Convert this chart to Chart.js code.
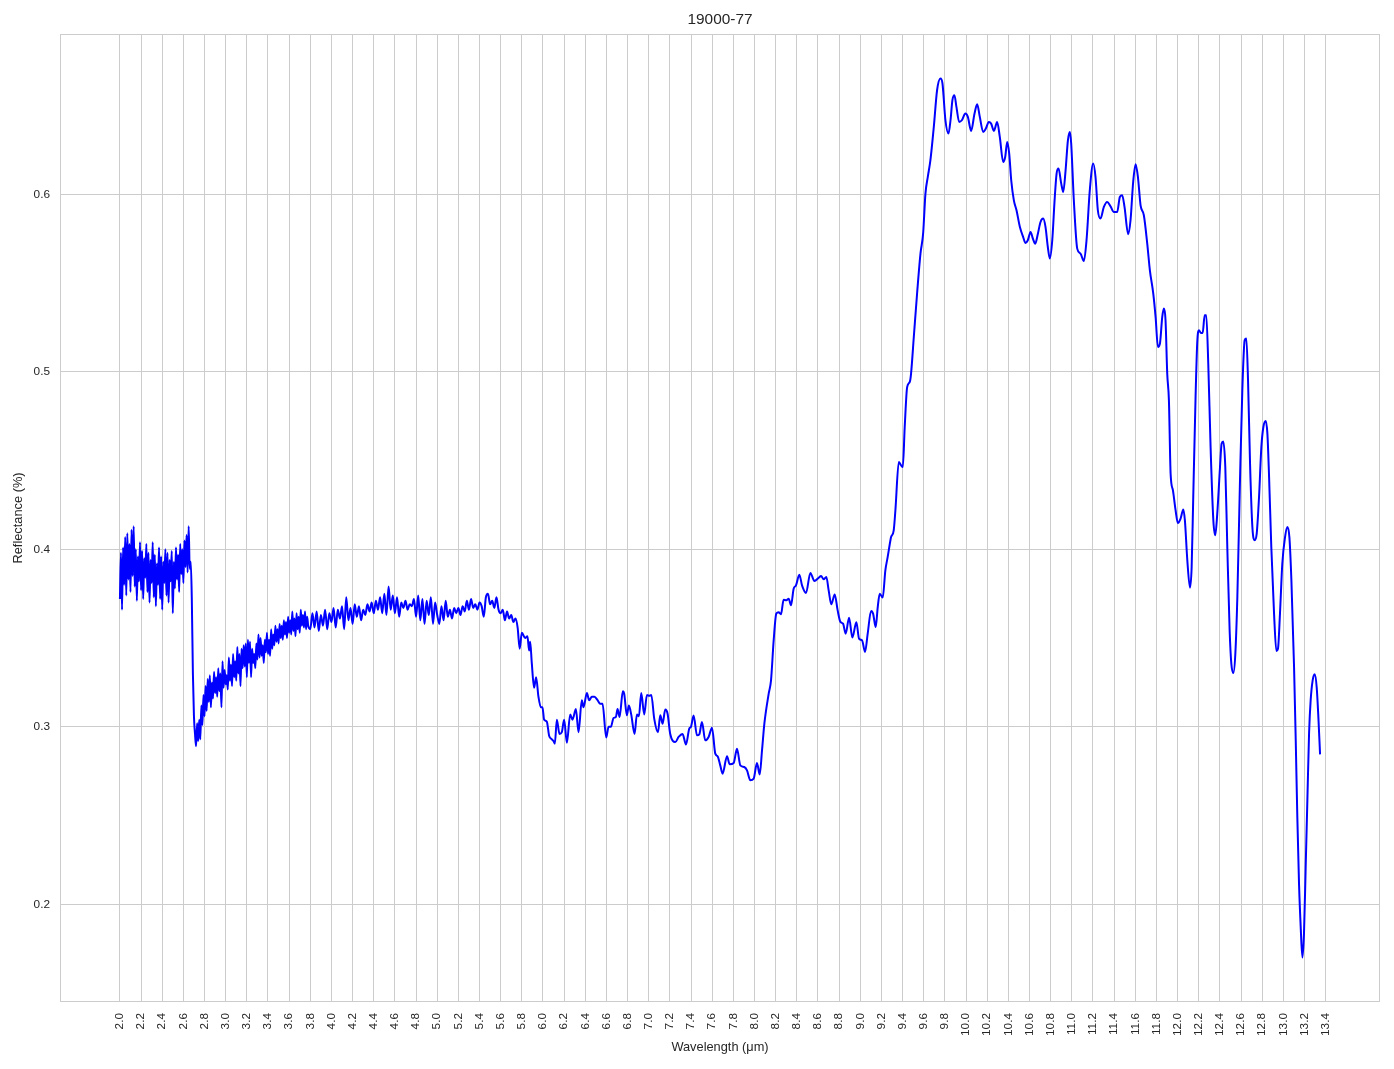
<!DOCTYPE html>
<html lang="en">
  <head>
    <meta charset="UTF-8" />
    <title>19000-77</title>
    <script src="https://cdn.jsdelivr.net/npm/chart.js@4"></script>
    <style>
      body { margin: 0; background: #ffffff; }
    </style>
  </head>
  <body>
    <canvas id="spectrum" width="1394" height="1069"></canvas>
    <script>
      // noisy start of the scan, 2.00 - 2.68 um
      const seg1Wl = [
        2.00, 2.01, 2.02, 2.03, 2.04, 2.05, 2.06, 2.07, 2.08, 2.09,
        2.10, 2.11, 2.12, 2.13, 2.14, 2.15, 2.16, 2.17, 2.18, 2.19,
        2.20, 2.21, 2.22, 2.23, 2.24, 2.25, 2.26, 2.27, 2.28, 2.29,
        2.30, 2.31, 2.32, 2.33, 2.34, 2.35, 2.36, 2.37, 2.38, 2.39,
        2.40, 2.41, 2.42, 2.43, 2.44, 2.45, 2.46, 2.47, 2.48, 2.49,
        2.50, 2.51, 2.52, 2.53, 2.54, 2.55, 2.56, 2.57, 2.58, 2.59,
        2.60, 2.61, 2.62, 2.63, 2.64, 2.65, 2.66, 2.67, 2.68
      ];
      const seg1Refl = [
        0.372, 0.398, 0.366, 0.401, 0.380, 0.407, 0.374, 0.409, 0.383, 0.403,
        0.376, 0.411, 0.385, 0.413, 0.379, 0.400, 0.371, 0.396, 0.382, 0.404,
        0.377, 0.399, 0.372, 0.395, 0.384, 0.403, 0.376, 0.398, 0.370, 0.394,
        0.381, 0.404, 0.373, 0.397, 0.368, 0.392, 0.380, 0.401, 0.372, 0.396,
        0.366, 0.393, 0.381, 0.400, 0.374, 0.398, 0.370, 0.394, 0.382, 0.399,
        0.364, 0.393, 0.378, 0.401, 0.383, 0.397, 0.376, 0.403, 0.386, 0.400,
        0.381, 0.405, 0.390, 0.408, 0.387, 0.413, 0.389, 0.393, 0.371
      ];

      // drop and slow noisy rise, 2.69 - 3.78 um
      const seg2Wl = [
        2.69, 2.70, 2.71, 2.72, 2.73, 2.74, 2.75, 2.76, 2.77, 2.78,
        2.79, 2.80, 2.81, 2.82, 2.83, 2.84, 2.85, 2.86, 2.87, 2.88,
        2.89, 2.90, 2.91, 2.92, 2.93, 2.94, 2.95, 2.96, 2.97, 2.98,
        2.99, 3.00, 3.01, 3.02, 3.03, 3.04, 3.05, 3.06, 3.07, 3.08,
        3.09, 3.10, 3.11, 3.12, 3.13, 3.14, 3.15, 3.16, 3.17, 3.18,
        3.19, 3.20, 3.21, 3.22, 3.23, 3.24, 3.25, 3.26, 3.27, 3.28,
        3.29, 3.30, 3.31, 3.32, 3.33, 3.34, 3.35, 3.36, 3.37, 3.38,
        3.39, 3.40, 3.41, 3.42, 3.43, 3.44, 3.45, 3.46, 3.47, 3.48,
        3.49, 3.50, 3.51, 3.52, 3.53, 3.54, 3.55, 3.56, 3.57, 3.58,
        3.59, 3.60, 3.61, 3.62, 3.63, 3.64, 3.65, 3.66, 3.67, 3.68,
        3.69, 3.70, 3.71, 3.72, 3.73, 3.74, 3.75, 3.76, 3.77, 3.78
      ];
      const seg2Refl = [
        0.330, 0.306, 0.296, 0.289, 0.302, 0.292, 0.304, 0.293, 0.312, 0.301,
        0.318, 0.306, 0.323, 0.309, 0.327, 0.314, 0.329, 0.311, 0.325, 0.316,
        0.331, 0.319, 0.328, 0.317, 0.333, 0.320, 0.330, 0.311, 0.337, 0.322,
        0.332, 0.324, 0.329, 0.321, 0.339, 0.326, 0.335, 0.323, 0.341, 0.328,
        0.337, 0.326, 0.345, 0.330, 0.341, 0.323, 0.344, 0.333, 0.346, 0.334,
        0.347, 0.328, 0.349, 0.336, 0.348, 0.328, 0.344, 0.336, 0.341, 0.333,
        0.347, 0.338, 0.352, 0.339, 0.350, 0.340, 0.346, 0.336, 0.349, 0.342,
        0.353, 0.341, 0.349, 0.340, 0.355, 0.344, 0.352, 0.346, 0.357, 0.348,
        0.355, 0.347, 0.358, 0.350, 0.357, 0.349, 0.360, 0.352, 0.359, 0.350,
        0.362, 0.353, 0.360, 0.352, 0.365, 0.354, 0.361, 0.351, 0.364, 0.355,
        0.362, 0.353, 0.366, 0.357, 0.363, 0.356, 0.365, 0.355, 0.362, 0.357
      ];

      // plateau, 3.80 - 5.78 um
      const seg3Wl = [
        3.80, 3.82, 3.84, 3.86, 3.88, 3.90, 3.92, 3.94, 3.96, 3.98,
        4.00, 4.02, 4.04, 4.06, 4.08, 4.10, 4.12, 4.14, 4.16, 4.18,
        4.20, 4.22, 4.24, 4.26, 4.28, 4.30, 4.32, 4.34, 4.36, 4.38,
        4.40, 4.42, 4.44, 4.46, 4.48, 4.50, 4.52, 4.54, 4.56, 4.58,
        4.60, 4.62, 4.64, 4.66, 4.68, 4.70, 4.72, 4.74, 4.76, 4.78,
        4.80, 4.82, 4.84, 4.86, 4.88, 4.90, 4.92, 4.94, 4.96, 4.98,
        5.00, 5.02, 5.04, 5.06, 5.08, 5.10, 5.12, 5.14, 5.16, 5.18,
        5.20, 5.22, 5.24, 5.26, 5.28, 5.30, 5.32, 5.34, 5.36, 5.38,
        5.40, 5.42, 5.44, 5.46, 5.48, 5.50, 5.52, 5.54, 5.56, 5.58,
        5.60, 5.62, 5.64, 5.66, 5.68, 5.70, 5.72, 5.74, 5.76, 5.78
      ];
      const seg3Refl = [
        0.355, 0.364, 0.356, 0.365, 0.354, 0.363, 0.357, 0.366, 0.355, 0.364,
        0.359, 0.367, 0.356, 0.366, 0.361, 0.368, 0.355, 0.373, 0.360, 0.367,
        0.358, 0.369, 0.362, 0.368, 0.360, 0.366, 0.363, 0.369, 0.365, 0.370,
        0.364, 0.371, 0.366, 0.373, 0.364, 0.375, 0.363, 0.379, 0.366, 0.374,
        0.364, 0.373, 0.362, 0.370, 0.367, 0.371, 0.366, 0.369, 0.368, 0.372,
        0.362, 0.374, 0.360, 0.372, 0.358, 0.371, 0.363, 0.373, 0.358, 0.370,
        0.363, 0.358, 0.368, 0.360, 0.371, 0.362, 0.366, 0.361, 0.367, 0.364,
        0.367, 0.363, 0.368, 0.365, 0.371, 0.366, 0.372, 0.367, 0.369, 0.366,
        0.370, 0.368, 0.362, 0.373, 0.375, 0.369, 0.371, 0.367, 0.373, 0.366,
        0.364, 0.366, 0.360, 0.365, 0.361, 0.363, 0.359, 0.361, 0.356, 0.344
      ];

      // trough, 5.80 - 8.23 um
      const seg4Wl = [
        5.800, 5.831, 5.853, 5.869, 5.879, 5.894, 5.916, 5.935, 5.957, 5.980,
        5.995, 6.011, 6.036, 6.058, 6.084, 6.099, 6.112, 6.131, 6.156, 6.178,
        6.200, 6.226, 6.257, 6.279, 6.311, 6.336, 6.367, 6.383, 6.415, 6.437,
        6.462, 6.487, 6.516, 6.541, 6.563, 6.598, 6.620, 6.642, 6.667, 6.689,
        6.705, 6.724, 6.755, 6.768, 6.793, 6.812, 6.834, 6.866, 6.888, 6.907,
        6.929, 6.957, 6.983, 7.005, 7.024, 7.052, 7.087, 7.109, 7.131, 7.156,
        7.178, 7.203, 7.251, 7.282, 7.320, 7.352, 7.383, 7.399, 7.424, 7.456,
        7.478, 7.503, 7.534, 7.566, 7.598, 7.629, 7.651, 7.676, 7.698, 7.740,
        7.765, 7.803, 7.834, 7.866, 7.903, 7.929, 7.960, 7.992, 8.023, 8.049,
        8.071, 8.093, 8.134, 8.156, 8.181, 8.206, 8.228
      ];
      const seg4Refl = [
        0.353, 0.350, 0.351, 0.343, 0.348, 0.336, 0.322, 0.328, 0.317, 0.311,
        0.311, 0.304, 0.303, 0.295, 0.293, 0.292, 0.2905, 0.304, 0.296, 0.297,
        0.304, 0.291, 0.307, 0.304, 0.310, 0.297, 0.315, 0.311, 0.319, 0.315,
        0.317, 0.317, 0.315, 0.313, 0.313, 0.294, 0.300, 0.300, 0.305, 0.3055,
        0.310, 0.3055, 0.320, 0.3185, 0.3065, 0.312, 0.307, 0.296, 0.307, 0.306,
        0.319, 0.307, 0.318, 0.3175, 0.318, 0.3045, 0.297, 0.3065, 0.3018, 0.3097,
        0.3074, 0.296, 0.2914, 0.2943, 0.296, 0.290, 0.299, 0.300, 0.3064, 0.2952,
        0.2958, 0.3027, 0.2924, 0.2943, 0.2995, 0.2849, 0.2834, 0.2783, 0.2736, 0.2834,
        0.2789, 0.2796, 0.2877, 0.2783, 0.2774, 0.2755, 0.2699, 0.2708, 0.2796, 0.2732,
        0.2868, 0.3018, 0.3187, 0.3262, 0.3487, 0.3638, 0.3646
      ];

      // shoulder, 8.25 - 9.29 um
      const seg5Wl = [
        8.250, 8.275, 8.301, 8.323, 8.345, 8.370, 8.392, 8.424, 8.449, 8.487,
        8.528, 8.566, 8.607, 8.629, 8.654, 8.679, 8.701, 8.726, 8.758, 8.786,
        8.812, 8.837, 8.862, 8.894, 8.925, 8.963, 8.988, 9.017, 9.045, 9.070,
        9.102, 9.121, 9.146, 9.165, 9.184, 9.212, 9.237, 9.259, 9.285
      ];
      const seg5Refl = [
        0.3634, 0.3716, 0.3713, 0.3722, 0.3685, 0.3778, 0.3797, 0.3857, 0.3797, 0.3754,
        0.3867, 0.3822, 0.3840, 0.3850, 0.3831, 0.3844, 0.3769, 0.3690, 0.3746, 0.3656,
        0.3591, 0.3581, 0.3525, 0.3615, 0.3503, 0.3589, 0.3497, 0.3487, 0.3422, 0.3525,
        0.3653, 0.3638, 0.3562, 0.3675, 0.3750, 0.3728, 0.3882, 0.3957, 0.4051
      ];

      // reststrahlen peak, 9.29 - 10.98 um
      const seg6Wl = [
        9.291, 9.316, 9.332, 9.364, 9.386, 9.402, 9.420, 9.443, 9.468, 9.480,
        9.506, 9.537, 9.569, 9.594, 9.616, 9.638, 9.663, 9.695, 9.726, 9.758,
        9.777, 9.805, 9.834, 9.853, 9.871, 9.890, 9.909, 9.935, 9.960, 9.994,
        10.017, 10.048, 10.080, 10.105, 10.130, 10.162, 10.187, 10.215, 10.237, 10.263,
        10.294, 10.319, 10.351, 10.370, 10.389, 10.408, 10.427, 10.452, 10.477, 10.509,
        10.540, 10.562, 10.584, 10.610, 10.632, 10.654, 10.679, 10.704, 10.729, 10.751,
        10.773, 10.792, 10.815, 10.837, 10.856, 10.874, 10.900, 10.919, 10.941, 10.963,
        10.982
      ];
      const seg6Refl = [
        0.4069, 0.4107, 0.4220, 0.4492, 0.4473, 0.4464, 0.4689, 0.4914, 0.4943, 0.4990,
        0.5196, 0.5441, 0.5666, 0.5778, 0.6004, 0.6097, 0.6192, 0.6379, 0.6586, 0.6652,
        0.6624, 0.6417, 0.6342, 0.6417, 0.6530, 0.6558, 0.6492, 0.6407, 0.6417, 0.6455,
        0.6436, 0.6357, 0.6455, 0.6507, 0.6436, 0.6351, 0.6370, 0.6407, 0.6398, 0.6357,
        0.6407, 0.6323, 0.6182, 0.6210, 0.6295, 0.6229, 0.6079, 0.5966, 0.5910, 0.5816,
        0.5759, 0.5726, 0.5741, 0.5788, 0.5750, 0.5722, 0.5778, 0.5844, 0.5863, 0.5816,
        0.5703, 0.5638, 0.5741, 0.5966, 0.6117, 0.6145, 0.6060, 0.6013, 0.6135, 0.6304,
        0.6351
      ];

      // 11 um region, 10.99 - 11.92 um
      const seg7Wl = [
        10.994, 11.019, 11.051, 11.082, 11.114, 11.139, 11.170, 11.202, 11.224, 11.246,
        11.271, 11.303, 11.334, 11.366, 11.398, 11.429, 11.454, 11.476, 11.498, 11.533,
        11.555, 11.580, 11.603, 11.625, 11.650, 11.681, 11.713, 11.738, 11.770, 11.792,
        11.814, 11.833, 11.855, 11.871, 11.886, 11.902, 11.918
      ];
      const seg7Refl = [
        0.6286, 0.5966, 0.5694, 0.5666, 0.5624, 0.5741, 0.6023, 0.6173, 0.6097, 0.5910,
        0.5863, 0.5929, 0.5957, 0.5932, 0.5900, 0.5900, 0.5985, 0.5994, 0.5929, 0.5775,
        0.5854, 0.6069, 0.6169, 0.6097, 0.5938, 0.5882, 0.5722, 0.5572, 0.5441, 0.5309,
        0.5140, 0.5159, 0.5309, 0.5356, 0.5290, 0.4990, 0.4839
      ];

      // oscillating tail, 11.93 - 13.35 um
      const seg8Wl = [
        11.934, 11.956, 11.981, 12.003, 12.028, 12.054, 12.069, 12.092, 12.117, 12.133,
        12.148, 12.170, 12.186, 12.202, 12.221, 12.237, 12.256, 12.271, 12.290, 12.312,
        12.338, 12.356, 12.375, 12.401, 12.416, 12.432, 12.451, 12.470, 12.492, 12.508,
        12.527, 12.546, 12.565, 12.590, 12.612, 12.634, 12.650, 12.666, 12.685, 12.707,
        12.729, 12.748, 12.770, 12.792, 12.811, 12.833, 12.849, 12.864, 12.886, 12.912,
        12.934, 12.949, 12.968, 12.990, 13.016, 13.038, 13.057, 13.076, 13.101, 13.117,
        13.132, 13.148, 13.164, 13.180, 13.195, 13.211, 13.227, 13.243, 13.258, 13.277,
        13.296, 13.315, 13.331, 13.347
      ];
      const seg8Refl = [
        0.4426, 0.4332, 0.4220, 0.4148, 0.4173, 0.4224, 0.4163, 0.3938, 0.3784, 0.3900,
        0.4295, 0.4858, 0.5168, 0.5234, 0.5219, 0.5219, 0.5318, 0.5318, 0.5046, 0.4576,
        0.4163, 0.4079, 0.4201, 0.4464, 0.4595, 0.4608, 0.4464, 0.4013, 0.3544, 0.3356,
        0.3303, 0.3412, 0.3731, 0.4389, 0.4896, 0.5177, 0.5187, 0.4952, 0.4483, 0.4126,
        0.4051, 0.4088, 0.4295, 0.4576, 0.4689, 0.4723, 0.4652, 0.4426, 0.4013, 0.3638,
        0.3427, 0.3440, 0.3638, 0.3919, 0.4069, 0.4126, 0.4069, 0.3825, 0.3340, 0.2924,
        0.2492, 0.2117, 0.1872, 0.1700, 0.1835, 0.2210, 0.2586, 0.2962, 0.3149, 0.3262,
        0.3296, 0.3224, 0.3055, 0.2845
      ];

      const xTicks = [
        2.0, 2.2, 2.4, 2.6, 2.8, 3.0, 3.2, 3.4, 3.6, 3.8,
        4.0, 4.2, 4.4, 4.6, 4.8, 5.0, 5.2, 5.4, 5.6, 5.8,
        6.0, 6.2, 6.4, 6.6, 6.8, 7.0, 7.2, 7.4, 7.6, 7.8,
        8.0, 8.2, 8.4, 8.6, 8.8, 9.0, 9.2, 9.4, 9.6, 9.8,
        10.0, 10.2, 10.4, 10.6, 10.8, 11.0, 11.2, 11.4, 11.6, 11.8,
        12.0, 12.2, 12.4, 12.6, 12.8, 13.0, 13.2, 13.4
      ];
      const yTicks = [0.2, 0.3, 0.4, 0.5, 0.6];

      const wavelength = [].concat(seg1Wl, seg2Wl, seg3Wl, seg4Wl, seg5Wl, seg6Wl, seg7Wl, seg8Wl);
      const reflectance = [].concat(seg1Refl, seg2Refl, seg3Refl, seg4Refl, seg5Refl, seg6Refl, seg7Refl, seg8Refl);
      const points = wavelength.map((w, i) => ({ x: w, y: reflectance[i] }));

      const textColor = "#262626";
      const gridColor = "#cccccc";
      const family = "'Liberation Sans', Arial, sans-serif";
      const tickFont = { family: family, size: 11.8 };
      const labelFont = { family: family, size: 12.8 };

      // light grey box round the plot area, like the seaborn spines
      const frame = {
        id: "frame",
        beforeDatasetsDraw(chart) {
          const a = chart.chartArea;
          const c = chart.ctx;
          c.save();
          c.strokeStyle = gridColor;
          c.lineWidth = 1;
          c.strokeRect(Math.round(a.left) + 0.5, Math.round(a.top) + 0.5,
            Math.round(a.right - a.left) - 1, Math.round(a.bottom - a.top) - 1);
          c.restore();
        },
      };

      const ctx = document.getElementById("spectrum").getContext("2d");
      new Chart(ctx, {
        type: "line",
        data: {
          datasets: [
            {
              label: "19000-77",
              data: points,
              borderColor: "#0000ff",
              borderWidth: 2,
              pointRadius: 0,
              fill: false,
              cubicInterpolationMode: "monotone",
            },
          ],
        },
        options: {
          responsive: false,
          animation: false,
          devicePixelRatio: 1,
          layout: { padding: { left: 0, right: 14, top: 0, bottom: 0 } },
          plugins: {
            legend: { display: false },
            tooltip: { enabled: false },
            title: {
              display: true,
              fullSize: false,
              text: "19000-77",
              color: textColor,
              font: { family: family, size: 15.4, weight: "normal", lineHeight: 1.2 },
              padding: { top: 11, bottom: 4.5 },
            },
          },
          scales: {
            x: {
              type: "linear",
              min: 1.4335,
              max: 13.9137,
              afterBuildTicks: (s) => {
                s.ticks = xTicks.map((v) => ({ value: v }));
              },
              afterFit: (s) => {
                s.height = 67;
              },
              ticks: {
                autoSkip: false,
                minRotation: 90,
                maxRotation: 90,
                padding: 11,
                color: textColor,
                font: tickFont,
                callback: (v) => Number(v).toFixed(1),
              },
              grid: { color: gridColor, lineWidth: 1, drawTicks: false },
              border: { display: false },
              title: {
                display: true,
                text: "Wavelength (μm)",
                color: textColor,
                font: labelFont,
                padding: { top: 0, bottom: 13.5 },
              },
            },
            y: {
              type: "linear",
              min: 0.145,
              max: 0.6903,
              afterBuildTicks: (s) => {
                s.ticks = yTicks.map((v) => ({ value: v }));
              },
              afterFit: (s) => {
                s.width = 60;
              },
              ticks: {
                padding: 10,
                color: textColor,
                font: tickFont,
                callback: (v) => Number(v).toFixed(1),
              },
              grid: { color: gridColor, lineWidth: 1, drawTicks: false },
              border: { display: false },
              title: {
                display: true,
                text: "Reflectance (%)",
                color: textColor,
                font: labelFont,
                padding: { top: 11, bottom: 0 },
              },
            },
          },
        },
        plugins: [frame],
      });
    </script>
  </body>
</html>
